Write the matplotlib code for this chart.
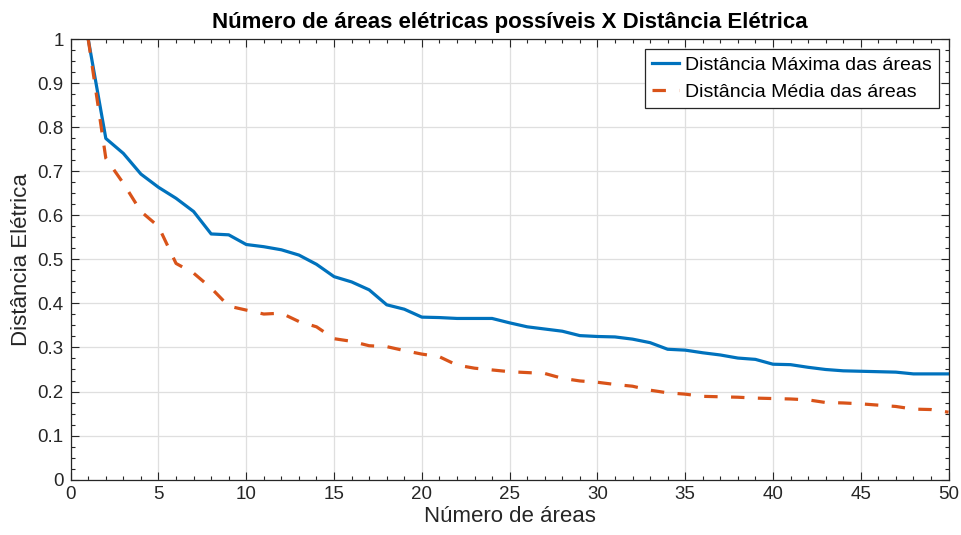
import numpy as np
import matplotlib
matplotlib.use('Agg')
import matplotlib.pyplot as plt
from matplotlib.ticker import MultipleLocator

plt.rcParams['font.family'] = ['Liberation Sans', 'DejaVu Sans']

# dados
n_areas = list(range(1, 51))
dist_max = [1.000, 0.775, 0.741, 0.694, 0.664, 0.639, 0.609, 0.558, 0.556, 0.534,
            0.529, 0.522, 0.510, 0.489, 0.461, 0.449, 0.431, 0.397, 0.387, 0.369,
            0.368, 0.366, 0.366, 0.366, 0.356, 0.347, 0.342, 0.337, 0.327, 0.325,
            0.324, 0.319, 0.311, 0.296, 0.294, 0.288, 0.283, 0.276, 0.273, 0.262,
            0.261, 0.255, 0.250, 0.247, 0.246, 0.245, 0.244, 0.240, 0.240, 0.240]
dist_med = [1.000, 0.730, 0.673, 0.609, 0.575, 0.491, 0.469, 0.435, 0.394, 0.385,
            0.376, 0.378, 0.359, 0.347, 0.320, 0.314, 0.304, 0.302, 0.293, 0.285,
            0.279, 0.260, 0.253, 0.249, 0.245, 0.243, 0.241, 0.230, 0.224, 0.221,
            0.216, 0.212, 0.203, 0.197, 0.194, 0.189, 0.188, 0.187, 0.185, 0.184,
            0.183, 0.181, 0.175, 0.174, 0.172, 0.169, 0.166, 0.160, 0.159, 0.153]

fig = plt.figure(figsize=(9.62, 5.35), dpi=100)
ax = fig.add_axes([0.0735, 0.1037, 0.9125, 0.8226])

ax.plot(n_areas, dist_max, color='#0072BD', lw=2.3, label='Distância Máxima das áreas')
ax.plot(n_areas, dist_med, color='#D95319', lw=2.3, ls=(0, (4.2, 4.2)),
        label='Distância Média das áreas')

ax.set_xlim(0, 50)
ax.set_ylim(0, 1)
ax.xaxis.set_major_locator(MultipleLocator(5))
ax.xaxis.set_minor_locator(MultipleLocator(1))
ax.yaxis.set_major_locator(MultipleLocator(0.1))
ax.yaxis.set_minor_locator(MultipleLocator(0.025))
ax.yaxis.set_major_formatter(plt.FuncFormatter(lambda v, p: f'{v:g}'))
ax.tick_params(which='both', direction='in', top=True, right=True, labelsize=13.5,
               colors='#262626', labelcolor='#262626', width=0.8)
ax.tick_params(which='major', length=6, pad=5)
ax.tick_params(which='minor', length=3)
ax.grid(True, which='major', color='#dfdfdf', lw=0.9)
ax.set_axisbelow(True)
for s in ax.spines.values():
    s.set_color('#262626')
    s.set_linewidth(0.9)

ax.set_xlabel('Número de áreas', fontsize=16, color='#262626', labelpad=2)
ax.set_ylabel('Distância Elétrica', fontsize=16, color='#262626', labelpad=4)
ax.set_title('Número de áreas elétricas possíveis X Distância Elétrica',
             fontsize=16, fontweight='bold', pad=8)

leg = ax.legend(loc='upper right', fontsize=14, fancybox=False, framealpha=1,
                borderaxespad=0.5, handlelength=1.4, handletextpad=0.3,
                borderpad=0.35, labelspacing=0.5)
leg.get_frame().set_edgecolor('#262626')
leg.get_frame().set_linewidth(0.9)

fig.savefig('out.png', dpi=100)
